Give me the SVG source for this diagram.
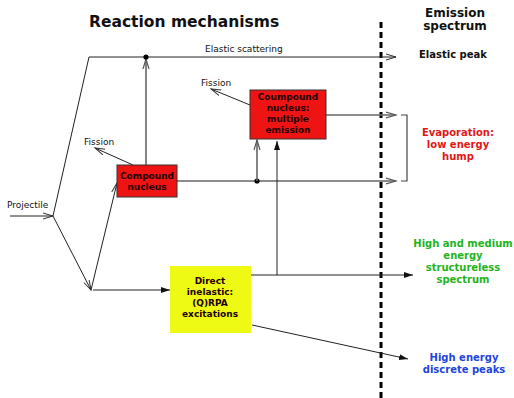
<svg xmlns="http://www.w3.org/2000/svg" width="514" height="398" viewBox="0 0 514 398">
  <style>
    text { font-family: "DejaVu Sans", Verdana, sans-serif; }
    .title { font-size: 15.5px; font-weight: bold; fill: #111; }
    .head { font-size: 12px; font-weight: bold; fill: #111; text-anchor: middle; }
    .lbl { font-size: 9px; fill: #111; }
    .box { font-size: 9px; font-weight: bold; text-anchor: middle; fill: #220000; }
    .out { font-size: 10px; font-weight: bold; text-anchor: middle; }
    .ln { fill: none; stroke: #222; stroke-width: 1; }
    .gr { fill: none; stroke: #666; stroke-width: 1.6; }
  </style>
  <defs>
    <marker id="open" markerUnits="userSpaceOnUse" markerWidth="12" markerHeight="8" refX="10" refY="4" orient="auto">
      <path d="M0,1 L10,4 L0,7" fill="none" stroke="#333" stroke-width="1"/>
    </marker>
    <marker id="openG" markerUnits="userSpaceOnUse" markerWidth="12" markerHeight="8" refX="10" refY="4" orient="auto">
      <path d="M0,1 L10,4 L0,7" fill="none" stroke="#555" stroke-width="1.2"/>
    </marker>
    <marker id="solid" markerUnits="userSpaceOnUse" markerWidth="10" markerHeight="8" refX="9" refY="4" orient="auto">
      <path d="M0,1 L9,4 L0,7 Z" fill="#111"/>
    </marker>
  </defs>

  <!-- headings -->
  <text class="title" x="89" y="27">Reaction mechanisms</text>
  <text class="head" x="455" y="17">Emission</text>
  <text class="head" x="455" y="30">spectrum</text>

  <!-- boundary between mechanisms and spectrum -->
  <line x1="381" y1="22" x2="381" y2="398" stroke="#000" stroke-width="3" stroke-dasharray="6,4"/>

  <g id="connectors">
    <!-- projectile in -->
    <line class="ln" x1="10" y1="216" x2="53" y2="216" marker-end="url(#open)"/>
    <!-- elastic path -->
    <polyline class="ln" points="53,216 89,57 396,57" stroke="#000" marker-end="url(#open)"/>
    <!-- lower branch -->
    <line class="ln" x1="53" y1="216" x2="91" y2="290" marker-end="url(#open)"/>
    <line class="ln" x1="91" y1="290" x2="117" y2="183" marker-end="url(#open)"/>
    <line class="ln" x1="93" y1="290" x2="170" y2="290" marker-end="url(#solid)"/>
    <!-- compound nucleus outputs -->
    <line class="gr" x1="146" y1="165" x2="146" y2="59" marker-end="url(#openG)"/>
    <circle cx="146" cy="57" r="2.6" fill="#000"/>
    <line class="ln" x1="133" y1="165" x2="95" y2="148" marker-end="url(#open)"/>
    <line class="gr" x1="177" y1="181" x2="396" y2="181" marker-end="url(#openG)"/>
    <circle cx="257" cy="181" r="2.6" fill="#000"/>
    <line class="gr" x1="257" y1="181" x2="257" y2="140" marker-end="url(#openG)"/>
    <!-- multiple emission outputs -->
    <line class="ln" x1="250" y1="105" x2="211" y2="89" marker-end="url(#open)"/>
    <line class="gr" x1="326" y1="115" x2="396" y2="115" marker-end="url(#openG)"/>
    <!-- direct inelastic outputs -->
    <polyline class="ln" points="251,275 277,275 277,141" marker-end="url(#solid)"/>
    <line class="ln" x1="277" y1="275" x2="413" y2="275" marker-end="url(#solid)"/>
    <line class="ln" x1="252" y1="325" x2="408" y2="359" marker-end="url(#solid)"/>
    <!-- evaporation bracket -->
    <polyline points="401,115 407,115 407,181 401,181" fill="none" stroke="#444" stroke-width="1.2"/>
  </g>

  <g id="labels">
    <text class="lbl" x="205" y="52">Elastic scattering</text>
    <text class="lbl" x="7" y="208">Projectile</text>
    <text class="lbl" x="84" y="145">Fission</text>
    <text class="lbl" x="201" y="86">Fission</text>
  </g>

  <g id="compound-nucleus">
    <rect x="117" y="165" width="60" height="32" fill="#ee1414" stroke="#333" stroke-width="1"/>
    <text class="box" x="147" y="179">Compound</text>
    <text class="box" x="147" y="190">nucleus</text>
  </g>

  <g id="multiple-emission">
    <rect x="250" y="90" width="76" height="49" fill="#ee1414" stroke="#333" stroke-width="1"/>
    <text class="box" x="288" y="100">Coumpound</text>
    <text class="box" x="288" y="111">nucleus:</text>
    <text class="box" x="288" y="122">multiple</text>
    <text class="box" x="288" y="133">emission</text>
  </g>

  <g id="direct-inelastic">
    <rect x="170" y="266" width="81" height="67" fill="#eefa14"/>
    <text class="box" x="210" y="284" fill="#111">Direct</text>
    <text class="box" x="210" y="295" fill="#111">inelastic:</text>
    <text class="box" x="210" y="306" fill="#111">(Q)RPA</text>
    <text class="box" x="210" y="317" fill="#111">excitations</text>
  </g>

  <g id="elastic-peak">
    <text class="out" x="453" y="58" fill="#111">Elastic peak</text>
  </g>

  <g id="evaporation">
    <text class="out" x="458" y="136" fill="#e01818">Evaporation:</text>
    <text class="out" x="458" y="148" fill="#e01818">low energy</text>
    <text class="out" x="458" y="160" fill="#e01818">hump</text>
  </g>

  <g id="structureless">
    <text class="out" x="463" y="247" fill="#1eb41e">High and medium</text>
    <text class="out" x="463" y="259" fill="#1eb41e">energy</text>
    <text class="out" x="463" y="271" fill="#1eb41e">structureless</text>
    <text class="out" x="463" y="283" fill="#1eb41e">spectrum</text>
  </g>

  <g id="discrete-peaks">
    <text class="out" x="464" y="361" fill="#2244dd">High energy</text>
    <text class="out" x="464" y="373" fill="#2244dd">discrete peaks</text>
  </g>
</svg>
